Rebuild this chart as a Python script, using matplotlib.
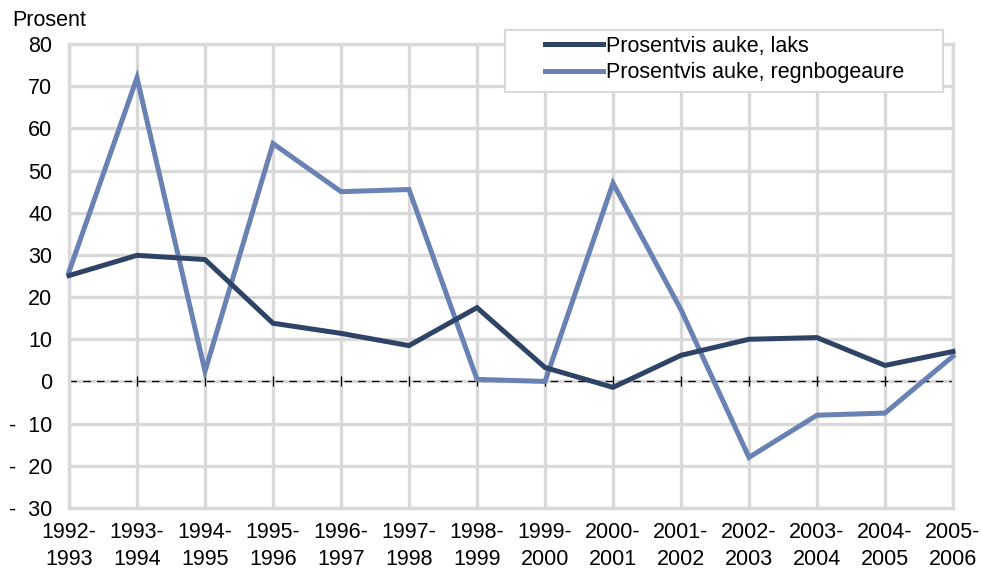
import matplotlib.pyplot as plt
from matplotlib.patches import Rectangle
import numpy as np

plt.rcParams['font.family'] = ['Liberation Sans', 'DejaVu Sans']

periods = ['1992-\n1993', '1993-\n1994', '1994-\n1995', '1995-\n1996', '1996-\n1997',
           '1997-\n1998', '1998-\n1999', '1999-\n2000', '2000-\n2001', '2001-\n2002',
           '2002-\n2003', '2003-\n2004', '2004-\n2005', '2005-\n2006']
laks = [25.1, 29.9, 28.9, 13.8, 11.4, 8.5, 17.5, 3.3, -1.4, 6.2, 10.0, 10.4, 3.8, 7.1]
regnbogeaure = [26.0, 72.0, 2.4, 56.4, 45.0, 45.5, 0.5, 0.0, 47.0, 17.0, -18.0, -8.0, -7.5, 6.0]
yticks = [80, 70, 60, 50, 40, 30, 20, 10, 0, -10, -20, -30]
ylabels = ['80', '70', '60', '50', '40', '30', '20', '10', '0', '-  10', '-  20', '-  30']

fs = 15.5
fig = plt.figure(figsize=(9.81, 5.76), dpi=100)
ax = fig.add_axes([69/981, 68/576, 884/981, 464/576])

x = np.arange(len(periods))
grid_c = '#d9d9d9'

ax.set_xlim(0, len(periods) - 1)
ax.set_ylim(-30, 80)
ax.set_xticks(x)
ax.set_xticklabels(periods, fontsize=fs, linespacing=1.4)
ax.set_yticks(yticks)
ax.set_yticklabels(ylabels, fontsize=fs)
ax.tick_params(length=0, pad=12)
ax.tick_params(axis='x', pad=10)
ax.grid(True, color=grid_c, linewidth=2.4)
ax.set_axisbelow(True)
for s in ax.spines.values():
    s.set_color(grid_c)
    s.set_linewidth(2.4)

ax.axhline(0, color='black', linewidth=0.9, linestyle=(0, (6, 5)), zorder=2)
ax.plot(x, np.zeros(len(x)), linestyle='none', marker='|', color='black',
        markersize=7, markeredgewidth=0.9, zorder=2, clip_on=False)

ax.plot(x, laks, color='#2f4366', linewidth=3.6, label='Prosentvis auke, laks',
        zorder=4, clip_on=False, solid_joinstyle='miter')
ax.plot(x, regnbogeaure, color='#6a82b3', linewidth=3.6,
        label='Prosentvis auke, regnbogeaure', zorder=3, clip_on=False,
        solid_joinstyle='miter')

# legend box drawn separately (wide side padding as in the original)
ax.add_patch(Rectangle((505/981, 1 - 92/576), 438/981, 62/576,
                       transform=fig.transFigure, facecolor='white',
                       edgecolor=grid_c, linewidth=1.5, zorder=5, clip_on=False))
leg = ax.legend(loc='upper left', bbox_to_anchor=(545/981, 1 - 36/576),
                bbox_transform=fig.transFigure, fontsize=fs,
                frameon=False, handlelength=2.7, handletextpad=0.15,
                borderpad=0, labelspacing=0.25, borderaxespad=0)
leg.set_zorder(6)

fig.text(12/981, 1 - 20/576, 'Prosent', fontsize=fs, va='center', ha='left')

plt.savefig('out.png', dpi=100)
